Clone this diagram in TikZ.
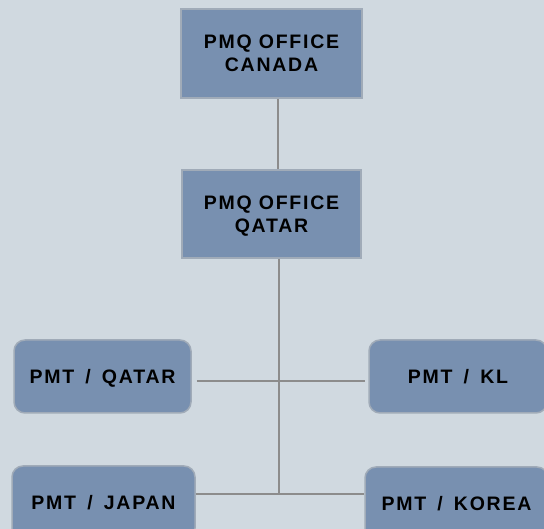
\documentclass[tikz,border=0pt]{standalone}
\usepackage{fontspec}
\setmainfont{Liberation Sans}[LetterSpace=9]
\definecolor{bgcol}{HTML}{D0D9E0}
\definecolor{boxcol}{HTML}{7890B0}
\definecolor{edgecol}{HTML}{A0ABB8}
\definecolor{linecol}{HTML}{8C8C8C}
\newcommand{\slsep}{\hspace{4pt}/\hspace{4pt}}
\tikzset{
  office/.style={draw=edgecol, line width=1.5pt, fill=boxcol, minimum width=#1, align=center, font=\bfseries\fontsize{19.5}{23}\selectfont},
  pmq/.style={office=#1, text height=37pt, text depth=0pt},
  pmt/.style={office=#1, rounded corners=11pt, minimum height=73pt, text height=19pt, text depth=4pt},
  link/.style={draw=linecol, line width=2pt}
}
\begin{document}
\begin{tikzpicture}[x=1pt,y=1pt]
	\useasboundingbox (0,0) rectangle (544,529);
	\clip (0,0) rectangle (544,529);
	\fill[bgcol] (0,0) rectangle (544,529);
	% links
	\coordinate (top) at (278,431);
	\coordinate (mid) at (278,359);
	\coordinate (split) at (279,271);
	\coordinate (low) at (279,35);
	\draw[link] (top) -- (mid);
	\draw[link] (split) -- (low);
	% boxes
	\node[pmq=181pt, minimum height=89pt] (canada) at (271.5,475.5) {PMQ OFFICE\\CANADA};
	\node[pmq=179pt, minimum height=88pt] (qatar) at (271.5,315) {PMQ OFFICE\\QATAR};
	\node[pmt=177pt] (pmtqatar) at (102.5,152.5) {PMT \slsep{} QATAR};
	\node[pmt=178pt] (pmtkl) at (458,152.5) {PMT \slsep{} KL};
	\node[pmt=183pt] (pmtjapan) at (103.5,26.5) {PMT \slsep{} JAPAN};
	\node[pmt=183pt] (pmtkorea) at (456.5,25.5) {PMT \slsep{} KOREA};
	\draw[link] (pmtqatar.east |- 0,148) ++(5,0) -- (365,148);
	\draw[link] (pmtjapan.east |- low) -- (pmtkorea.west |- low);
\end{tikzpicture}
\end{document}
